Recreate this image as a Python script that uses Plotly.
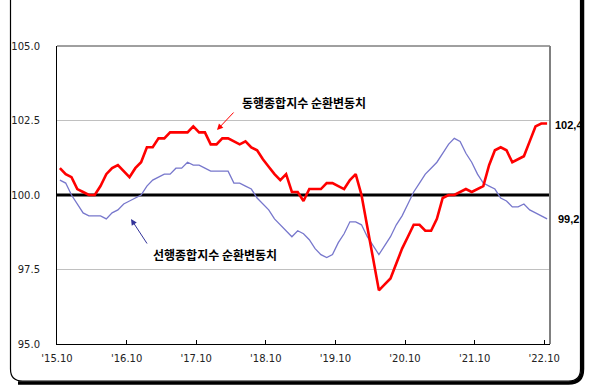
import plotly.graph_objects as go

# ---- data (monthly, 2015.10 .. 2022.10) ----
months = [f"{2015 + (9 + i) // 12}.{(9 + i) % 12 + 1:02d}" for i in range(85)]

coincident = [
    100.9, 100.7, 100.6, 100.2, 100.1, 100.0, 100.0, 100.3, 100.7, 100.9,
    101.0, 100.8, 100.6, 100.9, 101.1, 101.6, 101.6, 101.9, 101.9, 102.1,
    102.1, 102.1, 102.1, 102.3, 102.1, 102.1, 101.7, 101.7, 101.9, 101.9,
    101.8, 101.7, 101.8, 101.6, 101.5, 101.2, 100.95, 100.7, 100.5, 100.7,
    100.1, 100.1, 99.8, 100.2, 100.2, 100.2, 100.4, 100.4, 100.3, 100.2,
    100.5, 100.7, 100.0, 98.9, 97.9, 96.8, 97.0, 97.2, 97.7, 98.2,
    98.6, 99.0, 99.0, 98.8, 98.8, 99.2, 99.9, 100.0, 100.0, 100.1,
    100.2, 100.1, 100.2, 100.3, 101.0, 101.5, 101.6, 101.5, 101.1, 101.2,
    101.3, 101.8, 102.3, 102.4, 102.4,
]

leading = [
    100.5, 100.4, 100.0, 99.7, 99.4, 99.3, 99.3, 99.3, 99.2, 99.4,
    99.5, 99.7, 99.8, 99.9, 100.0, 100.3, 100.5, 100.6, 100.7, 100.7,
    100.9, 100.9, 101.1, 101.0, 101.0, 100.9, 100.8, 100.8, 100.8, 100.8,
    100.4, 100.4, 100.3, 100.2, 99.9, 99.7, 99.5, 99.2, 99.0, 98.8,
    98.6, 98.8, 98.7, 98.5, 98.2, 98.0, 97.9, 98.0, 98.4, 98.7,
    99.1, 99.1, 99.0, 98.6, 98.3, 98.0, 98.3, 98.6, 99.0, 99.3,
    99.7, 100.1, 100.4, 100.7, 100.9, 101.1, 101.4, 101.7, 101.9, 101.8,
    101.4, 101.1, 100.7, 100.4, 100.3, 100.2, 99.9, 99.8, 99.6, 99.6,
    99.7, 99.5, 99.4, 99.3, 99.2,
]

tick_labels = ["'15.10", "'16.10", "'17.10", "'18.10", "'19.10", "'20.10", "'21.10", "'22.10"]
y_ticks = [95.0, 97.5, 100.0, 102.5, 105.0]
grid_values = [97.5, 102.5]

W, H = 601, 391
L, R, T, B = 57, 51, 46, 47
PW, PH = W - L - R, H - T - B


def px(x):
    return (x - L) / PW


def py(y):
    return (H - B - y) / PH


xs = list(range(len(months)))
tickvals = [i * 12 - 0.5 for i in range(len(tick_labels))]

fig = go.Figure()
fig.add_trace(go.Scatter(x=xs, y=leading, mode="lines", name="선행종합지수 순환변동치",
                         line=dict(color="#7777CC", width=1.3), hoverinfo="skip"))
fig.add_trace(go.Scatter(x=xs, y=coincident, mode="lines", name="동행종합지수 순환변동치",
                         line=dict(color="#FF0000", width=2.6), hoverinfo="skip"))

tick_font = dict(family="DejaVu Sans", size=10, color="#222222")

fig.update_layout(
    width=W, height=H,
    margin=dict(l=L, r=R, t=T, b=B, pad=0),
    paper_bgcolor="white", plot_bgcolor="white",
    showlegend=False,
    xaxis=dict(range=[-0.5, len(months) - 0.5], tickmode="array", tickvals=tickvals,
               ticktext=tick_labels, ticks="inside", ticklen=4, tickcolor="black",
               showgrid=False, zeroline=False, showline=True, linecolor="black",
               linewidth=1, tickfont=tick_font, ticklabelstandoff=5, fixedrange=True),
    yaxis=dict(range=[95, 105], tickmode="array", tickvals=y_ticks,
               ticktext=[f"{v:.1f}" for v in y_ticks], ticks="", showgrid=False,
               zeroline=False, showline=True,
               linecolor="black", linewidth=1, tickfont=tick_font,
               ticklabelstandoff=14, fixedrange=True),
)

shapes = [
    dict(type="line", xref="paper", yref="y", x0=0, x1=1, y0=g, y1=g,
         line=dict(color="#C0C0C0", width=1), layer="below") for g in grid_values
]
shapes += [
    dict(type="line", xref="paper", yref="y", x0=0, x1=1, y0=100, y1=100,
         line=dict(color="black", width=3), layer="below"),
    dict(type="line", xref="paper", yref="paper", x0=0, x1=1, y0=1, y1=1,
         line=dict(color="#404040", width=1)),
    dict(type="line", xref="paper", yref="paper", x0=1, x1=1, y0=0, y1=1,
         line=dict(color="#808080", width=2)),
]

# outer rounded frame (thin), with a heavy shadow on right and bottom
xl, xr, yb, yt = px(10.5), px(580.5), py(381), py(-6)
rx, ry = 12 / PW, 12 / PH
frame = (f"M {xl},{yt} L {xl},{yb + ry} Q {xl},{yb} {xl + rx},{yb} "
         f"L {xr - rx},{yb} Q {xr},{yb} {xr},{yb + ry} L {xr},{yt}")
shapes.append(dict(type="path", xref="paper", yref="paper", path=frame,
                   line=dict(color="black", width=1.2)))
xs2, yb2 = px(582.5), py(383)
rx2, ry2 = 14 / PW, 14 / PH
shadow = (f"M {px(18)},{yb2} L {xs2 - rx2},{yb2} Q {xs2},{yb2} {xs2},{yb2 + ry2} "
          f"L {xs2},{yt}")
shapes.append(dict(type="path", xref="paper", yref="paper", path=shadow,
                   line=dict(color="black", width=3.5)))
fig.update_layout(shapes=shapes)

kfont = dict(family="Noto Sans CJK KR", size=12, color="black")
lfont = dict(family="Liberation Sans", size=11, color="black")
annotations = [
    dict(xref="paper", yref="paper", x=px(304), y=py(102.5), text="<b>동행종합지수 순환변동치</b>",
         showarrow=False, font=kfont, xanchor="center", yanchor="middle"),
    dict(xref="paper", yref="paper", x=px(215), y=py(255), text="<b>선행종합지수 순환변동치</b>",
         showarrow=False, font=kfont, xanchor="center", yanchor="middle"),
    dict(xref="paper", yref="paper", x=px(217), y=py(130), text="", showarrow=True,
         ax=18, ay=-19, arrowhead=2, arrowsize=1.2, arrowwidth=1, arrowcolor="#FF0000"),
    dict(xref="paper", yref="paper", x=px(131), y=py(219), text="", showarrow=True,
         ax=17, ay=26, arrowhead=2, arrowsize=1.2, arrowwidth=1, arrowcolor="#333399"),
    dict(xref="paper", yref="paper", x=px(553), y=py(125), text=f"<b>{coincident[-1]:.1f}</b>".replace(".", ","),
         showarrow=False, font=lfont, xanchor="left", yanchor="middle"),
    dict(xref="paper", yref="paper", x=px(556), y=py(219), text=f"<b>{leading[-1]:.1f}</b>".replace(".", ","),
         showarrow=False, font=lfont, xanchor="left", yanchor="middle"),
]
fig.update_layout(annotations=annotations)

fig.write_html("out.html", config={"displayModeBar": False, "staticPlot": True},
               post_script="document.body.style.margin='0px';document.body.style.overflow='hidden';")
